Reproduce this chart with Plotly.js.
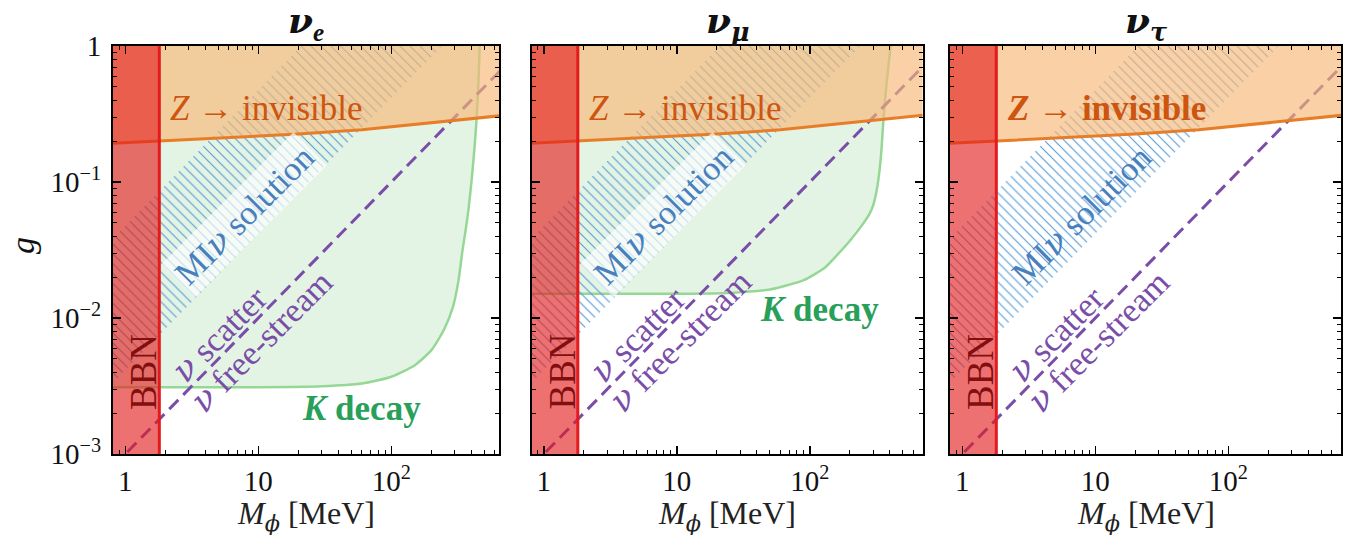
<!DOCTYPE html>
<html><head><meta charset="utf-8">
<script src="https://cdn.plot.ly/plotly-3.0.1.min.js"></script>
<style>html,body{margin:0;padding:0;background:#fff}</style></head>
<body>
<div id="chart" style="width:1346px;height:535px"></div>
<script>
// ---------------- data ----------------
const GK = "<span style=\"font-family:'DejaVu Serif'\">";
const flavourTitles = [
  '<b><i>' + GK + 'ν</span><sub>e</sub></i></b>',
  '<b><i>' + GK + 'ν</span><sub>' + GK + 'μ</span></sub></i></b>',
  '<b><i>' + GK + 'ν</span><sub>' + GK + 'τ</span></sub></i></b>'];
const bbnMass = 1.8;                        // MeV, BBN bound
const zMass     = [0.5, 0.78, 1.8, 5, 20, 60, 200, 700, 1000];
const zCoupling = [0.188, 0.192, 0.202, 0.212, 0.225, 0.242, 0.272, 0.31, 0.32];
const kMassE     = [0.5, 10, 30, 60, 100, 150, 200, 250, 290, 320, 342, 360, 380, 400, 420, 435, 448, 458, 465];
const kCouplingE = [0.0031, 0.0031, 0.00315, 0.0033, 0.0037, 0.0045, 0.0058, 0.0083, 0.012, 0.019, 0.031, 0.043, 0.063, 0.1, 0.17, 0.27, 0.45, 0.8, 1.3];
const kMassMu     = [0.5, 10, 25, 50, 90, 130, 160, 200, 250, 280, 300, 320, 335, 345, 355, 365, 375, 390, 405, 415];
const kCouplingMu = [0.0151, 0.0151, 0.0153, 0.0162, 0.019, 0.0235, 0.029, 0.037, 0.049, 0.058, 0.068, 0.09, 0.125, 0.17, 0.26, 0.37, 0.5, 0.72, 1.0, 1.3];
const streamMass     = [0.5, 1000];          // nu scatter / free-stream boundary
const streamCoupling = [0.0005, 1.0];
const miUpperMass     = [0.5, 30];           // MI-nu solution band
const miUpperCoupling = [0.0238, 1.43];
const miLowerMass     = [0.5, 330];
const miLowerCoupling = [0.00208, 1.375];
const bandMass     = [0.5, 1000];
const bandCoupling = [1e-4, 10];
const massTicks = [1, 10, 100];
const massTickText = ['1', '10', '10<sup>2</sup>'];
const massMinor = [0.8, 0.9, 2, 3, 4, 5, 6, 7, 8, 9, 20, 30, 40, 50, 60, 70, 80, 90, 200, 300, 400, 500, 600, 700];
const couplingTicks = [0.001, 0.01, 0.1, 1];
const couplingTickText = ['10<sup>−3</sup>', '10<sup>−2</sup>', '10<sup>−1</sup>', '1'];
const couplingMinor = [0.002,0.003,0.004,0.005,0.006,0.007,0.008,0.009,0.02,0.03,0.04,0.05,0.06,0.07,0.08,0.09,0.2,0.3,0.4,0.5,0.6,0.7,0.8,0.9];

// ---------------- styles ----------------
const FONT = 'Liberation Serif';
const C = {
  greenFill: 'rgba(120,200,120,0.20)', greenLine: 'rgb(150,215,150)',
  hatch: 'rgb(85,155,215)', purple: 'rgb(122,78,168)',
  orangeFill: 'rgba(247,184,118,0.65)', orangeLine: 'rgb(232,125,40)',
  bbnFill: 'rgba(228,26,28,0.62)', bbnLine: 'rgb(228,26,28)',
  zText: 'rgb(205,85,15)', miText: 'rgb(72,128,190)', kText: 'rgb(40,160,90)', bbnText: 'rgb(130,15,15)'
};

const panels = [
  {xa: 'x',  ya: 'y',  kM: kMassE,  kG: kCouplingE,  left: 113,   right: 499},
  {xa: 'x2', ya: 'y2', kM: kMassMu, kG: kCouplingMu, left: 531.5, right: 922.5},
  {xa: 'x3', ya: 'y3', kM: null,    kG: null,        left: 950,   right: 1341}
];
const L = 113, R = 1341, T = 46, B = 454, PW = R - L, PH = B - T;
const px = p => (p - L) / PW;
const py = p => (B - p) / PH;

const traces = [];
panels.forEach(p => {
  const base = {xaxis: p.xa, yaxis: p.ya, showlegend: false, hoverinfo: 'skip'};
  if (p.kM) {
    traces.push(Object.assign({}, base, {
      x: p.kM.concat([p.kM[p.kM.length - 1], p.kM[0]]),
      y: p.kG.concat([bandCoupling[1], bandCoupling[1]]),
      mode: 'lines', fill: 'toself', fillcolor: C.greenFill, line: {width: 0, shape: 'spline', smoothing: 0.6}
    }));
    traces.push(Object.assign({}, base, {
      x: p.kM, y: p.kG, mode: 'lines', line: {color: C.greenLine, width: 2.5, shape: 'spline', smoothing: 0.6}
    }));
  }
  traces.push(Object.assign({}, base, {
    x: [miUpperMass[0], miUpperMass[1], miLowerMass[1], miLowerMass[0]],
    y: [miUpperCoupling[0], miUpperCoupling[1], miLowerCoupling[1], miLowerCoupling[0]],
    mode: 'lines', fill: 'toself', fillcolor: 'rgba(0,0,0,0)', line: {width: 0},
    fillpattern: {shape: '\\', fgcolor: C.hatch, bgcolor: 'rgba(0,0,0,0)', size: 7, solidity: 0.16}
  }));
  traces.push(Object.assign({}, base, {
    x: streamMass, y: streamCoupling, mode: 'lines',
    line: {color: C.purple, width: 3, dash: '13px,7px'}
  }));
  traces.push(Object.assign({}, base, {
    x: zMass.concat([zMass[zMass.length - 1], zMass[0]]),
    y: zCoupling.concat([bandCoupling[1], bandCoupling[1]]),
    mode: 'lines', fill: 'toself', fillcolor: C.orangeFill, line: {width: 0}
  }));
  traces.push(Object.assign({}, base, {
    x: zMass, y: zCoupling, mode: 'lines', line: {color: C.orangeLine, width: 3}
  }));
  traces.push(Object.assign({}, base, {
    x: [bandMass[0], bbnMass, bbnMass, bandMass[0]],
    y: [bandCoupling[0], bandCoupling[0], bandCoupling[1], bandCoupling[1]],
    mode: 'lines', fill: 'toself', fillcolor: C.bbnFill, line: {width: 0}
  }));
  traces.push(Object.assign({}, base, {
    x: [bbnMass, bbnMass], y: bandCoupling, mode: 'lines', line: {color: C.bbnLine, width: 3}
  }));
});

function xAxis(i) {
  const p = panels[i];
  const lo = -0.093;
  const hi = lo + (p.right - p.left) / 133;
  return {
    type: 'log', range: [lo, hi], domain: [px(p.left), px(p.right)], anchor: i ? 'y' + (i + 1) : 'y',
    tickvals: massTicks, ticktext: massTickText, ticks: 'inside', ticklen: 8, tickwidth: 1.3, tickcolor: '#000',
    showline: true, linewidth: 2, linecolor: '#000', mirror: 'allticks', showgrid: false, zeroline: false,
    tickfont: {family: FONT, size: 29, color: '#111'}, ticklabelstandoff: 0,
    minor: {tickvals: massMinor, ticks: 'inside', ticklen: 4, tickwidth: 1, tickcolor: '#000', showgrid: false}
  };
}
function yAxis(i) {
  return {
    type: 'log', range: [-3, 0], domain: [0, 1], anchor: i ? 'x' + (i + 1) : 'x',
    tickvals: couplingTicks, ticktext: couplingTickText, showticklabels: i === 0,
    ticks: 'inside', ticklen: 8, tickwidth: 1.3, tickcolor: '#000',
    showline: true, linewidth: 2, linecolor: '#000', mirror: 'allticks', showgrid: false, zeroline: false,
    tickfont: {family: FONT, size: 29, color: '#111'}, ticklabelstandoff: 4,
    minor: {tickvals: couplingMinor, ticks: 'inside', ticklen: 4, tickwidth: 1, tickcolor: '#000', showgrid: false}
  };
}

const ann = [];
function A(text, x, y, opts) {
  ann.push(Object.assign({text: text, x: px(x), y: py(y), xref: 'paper', yref: 'paper', showarrow: false,
    xanchor: 'center', yanchor: 'middle', font: {family: FONT, size: 30, color: '#111'}}, opts || {}));
}
const NU = '<i>' + GK + 'ν</span></i>';
panels.forEach((p, i) => {
  const cx = (p.left + p.right) / 2;
  A(flavourTitles[i], cx, 23, {font: {family: FONT, size: 36, color: '#111'}});
  A('<i>M</i><sub><i>' + GK + 'ϕ</span></i></sub> [MeV]', cx, 515, {font: {family: FONT, size: 32, color: '#222'}});
  A(i === 2 ? '<b><i>Z</i> → invisible</b>' : '<i>Z</i> → invisible', p.left + 55, 108,
    {xanchor: 'left', font: {family: FONT, size: 35, color: C.zText}});
  A('MI' + NU + ' solution', p.left + 131, 215,
    {textangle: -45, bgcolor: i === 2 ? 'rgba(255,255,255,0)' : 'rgba(255,255,255,0.65)', borderpad: 3,
     font: {family: FONT, size: 34, color: C.miText}});
  A(NU + ' scatter', p.left + 106, 334, {textangle: -45, font: {family: FONT, size: 34, color: C.purple}});
  A(NU + ' free-stream', p.left + 148, 341, {textangle: -45, font: {family: FONT, size: 34, color: C.purple}});
  A('BBN', p.left + 30, 372, {textangle: -90, font: {family: FONT, size: 37, color: C.bbnText}});
});
A('<b><i>K</i> decay</b>', 361, 408, {font: {family: FONT, size: 35, color: C.kText}});
A('<b><i>K</i> decay</b>', 819, 310, {font: {family: FONT, size: 35, color: C.kText}});
A('<i>g</i>', 22, 246, {textangle: -90, font: {family: FONT, size: 34, color: '#111'}});

const layout = {
  width: 1346, height: 535, margin: {l: L, r: 1346 - R, t: T, b: 535 - B},
  paper_bgcolor: '#fff', plot_bgcolor: '#fff', showlegend: false, hovermode: false,
  xaxis: xAxis(0), xaxis2: xAxis(1), xaxis3: xAxis(2),
  yaxis: yAxis(0), yaxis2: yAxis(1), yaxis3: yAxis(2),
  annotations: ann
};
Plotly.newPlot('chart', traces, layout, {staticPlot: true, displayModeBar: false});
</script>
</body></html>
